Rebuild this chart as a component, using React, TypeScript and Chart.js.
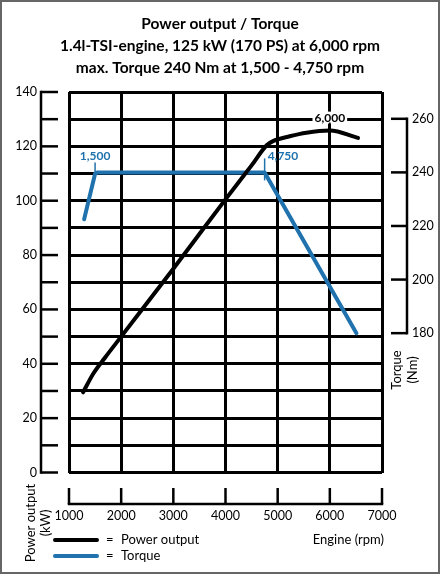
import React, { useEffect, useRef } from "react";
import { Chart, registerables } from "chart.js";

Chart.register(...registerables);

// ---- data ----
const powerRpm = [1270, 1470, 1700, 2000, 3000, 4000, 4500, 4790, 4920, 5230, 5550, 6000, 6540];
const powerKw = [29.5, 36.5, 42.5, 50, 75, 100.5, 113, 120.4, 122, 123.7, 125, 125.8, 123.1];
const torqueRpm = [1290, 1500, 1540, 4750, 6510];
const torqueNm = [222.5, 239.5, 240, 240, 180];
const torqueTicks = [180, 200, 220, 240, 260];
const markerRpm = [1500, 4750, 6000];
const markerValue = [240, 240, 125.8];
const markerLabel = ["1,500", "4,750", "6,000"];
const titleLines = [
  "Power output / Torque",
  "1.4l-TSI-engine, 125 kW (170 PS) at 6,000 rpm",
  "max. Torque 240 Nm at 1,500 - 4,750 rpm",
];
const legendLabels = ["Power output", "Torque"];

const BLUE = "#1f72ad";
const FONT = "Lato, 'DejaVu Sans', sans-serif";

const decor = {
  id: "decor",
  beforeDraw(chart: any) {
    const { ctx, width, height } = chart;
    ctx.save();
    ctx.fillStyle = "#fff";
    ctx.fillRect(0, 0, width, height);
    ctx.restore();
  },
  afterDraw(chart: any) {
    const { ctx, chartArea, width, height } = chart;
    const xs = chart.scales.x;
    const ys = chart.scales.y;
    const y2 = chart.scales.y2;
    ctx.save();
    ctx.strokeStyle = "#000";
    ctx.fillStyle = "#000";
    ctx.lineWidth = 2.5;
    ctx.lineCap = "butt";

    // title
    ctx.textAlign = "center";
    ctx.textBaseline = "middle";
    ctx.font = `bold 15.5px ${FONT}`;
    titleLines.forEach((t, i) => ctx.fillText(t, 220, 24 + i * 22));

    // left axis
    const lx = chartArea.left - 28;
    ctx.beginPath();
    ctx.moveTo(lx, ys.getPixelForValue(0) + 1.25);
    ctx.lineTo(lx, ys.getPixelForValue(140) - 1.25);
    ctx.stroke();
    ctx.font = `12.5px ${FONT}`;
    ctx.textAlign = "right";
    ys.ticks.forEach((tk: any) => {
      const py = ys.getPixelForValue(tk.value);
      ctx.beginPath();
      ctx.moveTo(lx, py);
      ctx.lineTo(lx + 17, py);
      ctx.stroke();
      if (tk.value % 20 === 0) ctx.fillText(String(tk.value), lx - 4, py);
    });

    // bottom axis
    const by = ys.getPixelForValue(0) + 31.5;
    ctx.beginPath();
    ctx.moveTo(xs.getPixelForValue(1000) - 1.25, by);
    ctx.lineTo(xs.getPixelForValue(7000) + 1.25, by);
    ctx.stroke();
    ctx.textAlign = "center";
    xs.ticks.forEach((tk: any) => {
      const px = xs.getPixelForValue(tk.value);
      ctx.beginPath();
      ctx.moveTo(px, by);
      ctx.lineTo(px, by - 16);
      ctx.stroke();
      ctx.fillText(String(tk.value), px, by + 12);
    });

    // right axis
    const rx = chartArea.right + 25;
    ctx.beginPath();
    ctx.moveTo(rx, y2.getPixelForValue(180) + 1.25);
    ctx.lineTo(rx, y2.getPixelForValue(260) - 1.25);
    ctx.stroke();
    ctx.textAlign = "left";
    torqueTicks.forEach((v) => {
      const py = y2.getPixelForValue(v);
      ctx.beginPath();
      ctx.moveTo(rx, py);
      ctx.lineTo(rx - 16, py);
      ctx.stroke();
      ctx.fillText(String(v), rx + 5, py);
    });

    // axis titles
    ctx.font = `13px ${FONT}`;
    ctx.save();
    ctx.translate(31, 523);
    ctx.rotate(-Math.PI / 2);
    ctx.textAlign = "center";
    ctx.fillText("Power output", 0, 0);
    ctx.fillText("(kW)", 0, 15);
    ctx.restore();
    ctx.save();
    ctx.translate(397, 370);
    ctx.rotate(-Math.PI / 2);
    ctx.textAlign = "center";
    ctx.fillText("Torque", 0, 0);
    ctx.fillText("(Nm)", 0, 16);
    ctx.restore();
    ctx.textAlign = "right";
    ctx.fillText("Engine (rpm)", 384, 540);

    // legend
    const colors = ["#000", BLUE];
    ctx.textAlign = "left";
    legendLabels.forEach((l, i) => {
      const ly = 540 + i * 16;
      ctx.strokeStyle = colors[i];
      ctx.lineWidth = 4;
      ctx.lineCap = "round";
      ctx.beginPath();
      ctx.moveTo(55, ly);
      ctx.lineTo(97, ly);
      ctx.stroke();
      ctx.fillStyle = "#000";
      ctx.fillText("=", 106, ly);
      ctx.fillText(l, 121, ly);
    });

    // markers
    ctx.lineCap = "butt";
    ctx.lineWidth = 1.5;
    ctx.font = `bold 12px ${FONT}`;
    markerRpm.forEach((r, i) => {
      const px = xs.getPixelForValue(r);
      if (i === 0) {
        const py = y2.getPixelForValue(markerValue[i]);
        ctx.strokeStyle = BLUE;
        ctx.fillStyle = BLUE;
        ctx.beginPath();
        ctx.moveTo(px, py - 10);
        ctx.lineTo(px, py);
        ctx.stroke();
        ctx.textAlign = "center";
        ctx.fillText(markerLabel[i], px, py - 16);
      } else if (i === 1) {
        const py = y2.getPixelForValue(markerValue[i]);
        ctx.strokeStyle = BLUE;
        ctx.fillStyle = BLUE;
        ctx.beginPath();
        ctx.moveTo(px, py - 14);
        ctx.lineTo(px, py + 8);
        ctx.stroke();
        ctx.textAlign = "left";
        ctx.fillText(markerLabel[i], px + 3, py - 16);
      } else {
        const py = ys.getPixelForValue(markerValue[i]);
        const w = ctx.measureText(markerLabel[i]).width;
        ctx.fillStyle = "#fff";
        ctx.fillRect(px - w / 2 - 2, py - 19, w + 4, 12);
        ctx.strokeStyle = "#000";
        ctx.fillStyle = "#000";
        ctx.beginPath();
        ctx.moveTo(px, py - 8);
        ctx.lineTo(px, py);
        ctx.stroke();
        ctx.textAlign = "center";
        ctx.fillText(markerLabel[i], px, py - 12);
      }
    });

    // outer border
    ctx.strokeStyle = "#666";
    ctx.lineWidth = 2;
    ctx.strokeRect(1, 1, width - 2, height - 2);
    ctx.restore();
  },
};

export default function App() {
  const ref = useRef<HTMLCanvasElement>(null);
  useEffect(() => {
    document.body.style.margin = "0";
    const chart = new Chart(ref.current!, {
      type: "line",
      data: {
        datasets: [
          {
            label: "Power output",
            data: powerRpm.map((x, i) => ({ x, y: powerKw[i] })),
            borderColor: "#000",
            borderWidth: 4,
            pointRadius: 0,
            cubicInterpolationMode: "monotone",
            borderCapStyle: "round",
            yAxisID: "y",
          },
          {
            label: "Torque",
            data: torqueRpm.map((x, i) => ({ x, y: torqueNm[i] })),
            borderColor: BLUE,
            borderWidth: 4,
            pointRadius: 0,
            tension: 0,
            borderCapStyle: "round",
            borderJoinStyle: "round",
            yAxisID: "y2",
          },
        ],
      },
      options: {
        animation: false,
        responsive: true,
        maintainAspectRatio: false,
        layout: { padding: { left: 69, right: 58, top: 92, bottom: 101.5 } },
        plugins: { legend: { display: false }, title: { display: false }, tooltip: { enabled: false } },
        scales: {
          x: {
            type: "linear",
            min: 1000,
            max: 7000,
            ticks: { display: false, stepSize: 1000 },
            grid: { color: "#000", lineWidth: 3, drawTicks: false },
            border: { display: false },
            afterFit: (s: any) => { s.height = 0; },
          },
          y: {
            min: 0,
            max: 140,
            ticks: { display: false, stepSize: 10 },
            grid: { color: "#000", lineWidth: 3, drawTicks: false },
            border: { display: false },
            afterFit: (s: any) => { s.width = 0; },
          },
          y2: {
            position: "right",
            min: 128,
            max: 270,
            display: false,
          },
        },
      },
      plugins: [decor],
    });
    return () => chart.destroy();
  }, []);
  return (
    <div style={{ width: 440, height: 574, position: "relative" }}>
      <canvas ref={ref} />
    </div>
  );
}
